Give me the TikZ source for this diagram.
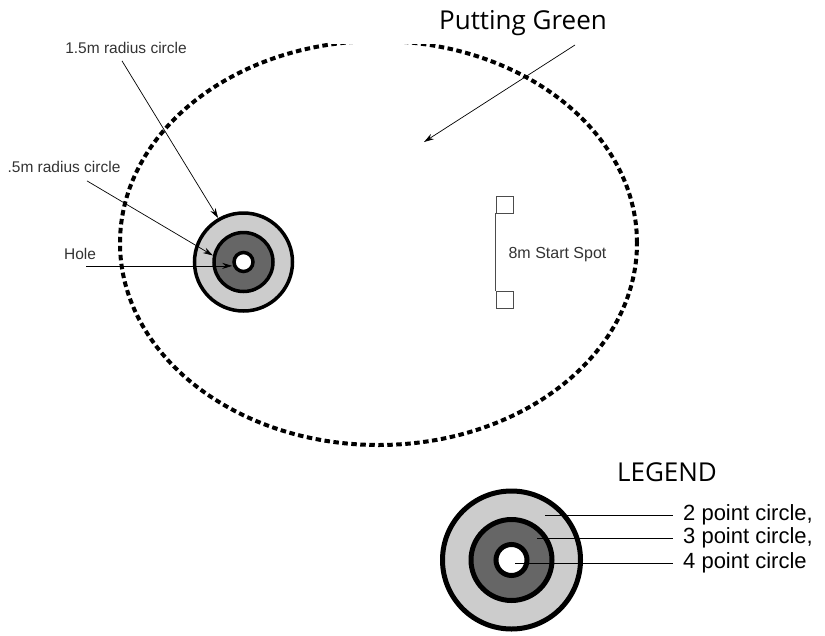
\documentclass[tikz,border=0pt]{standalone}
\usepackage{fontspec}
\setmainfont{Liberation Sans}
\newfontfamily\headfont{Open Sans}
\usetikzlibrary{arrows.meta}
\definecolor{ringlight}{gray}{0.8}
\definecolor{ringdark}{gray}{0.4}
\definecolor{spotgray}{gray}{0.3}

\begin{document}
\begin{tikzpicture}[x=1pt,y=-1pt,
    lbl/.style={font=\fontsize{15.5}{18}\selectfont,inner sep=0pt,text=black!80},
    pt/.style={font=\fontsize{22}{26}\selectfont,inner sep=0pt,anchor=west},
    head/.style={font=\headfont\fontsize{26}{30}\selectfont,inner sep=0pt},
    ring/.style={circle,draw,line width=3.5pt,inner sep=0pt},
    keyring/.style={circle,draw,line width=5pt,inner sep=0pt},
    arr/.style={-{Stealth[length=10pt,width=6pt]},line width=0.7pt},
    lead/.style={line width=0.8pt}]
    \useasboundingbox (0,0) rectangle (825,635);
    \draw[line width=4pt,dash pattern=on 5.5pt off 3.5pt] (378.5,243) ellipse [x radius=258.5pt, y radius=202pt];
    \fill[white] (330,0) rectangle (640,43.5);
    \node[head] (title) at (523,23) {Putting Green};
    \node[ring,fill=ringlight,minimum size=98pt] (c15) at (243.5,262) {};
    \node[ring,fill=ringdark,minimum size=59pt] (c05) at (243.5,262) {};
    \node[ring,fill=white,minimum size=19pt] (cup) at (243.5,262) {};
    \node[lbl] (l15) at (126,48) {1.5m radius circle};
    \node[lbl] (l05) at (64,167) {.5m radius circle};
    \node[lbl] (lhole) at (80,254) {Hole};
    \coordinate (hstart) at ([shift={(6,6)}]lhole.south);
    \coordinate (gtail) at (575,45);
    \coordinate (gtip) at (424,142);
    \draw[arr] ([shift={(-4,7)}]l15.south) -- (c15.120);
    \draw[arr] ([shift={(23,8)}]l05.south) -- (c05.168);
    \draw[arr] (hstart) -- (hstart -| cup.west);
    \draw[arr] (gtail) -- (gtip);
    \node[draw=spotgray,line width=0.8pt,minimum size=17pt,inner sep=0pt] (s1) at (504.5,204.5) {};
    \node[draw=spotgray,line width=0.8pt,minimum size=17pt,inner sep=0pt] (s2) at (504.5,299.5) {};
    \draw[spotgray,line width=0.8pt] (s1.south west) -- (s2.north west);
    \node[lbl,font=\fontsize{16}{19}\selectfont] (spot) at (557.5,255) {8m Start Spot};
    \node[head] (legend) at (667,472) {LEGEND};
    \node[keyring,fill=ringlight,minimum size=138pt] (k2) at (511.5,560) {};
    \node[keyring,fill=ringdark,minimum size=81pt] (k3) at (511.5,560) {};
    \node[keyring,fill=white,minimum size=31pt] (k4) at (511.5,560) {};
    \node[pt] (t2) at (683,515) {2 point circle,};
    \node[pt] (t3) at (683,538) {3 point circle,};
    \node[pt] (t4) at (683,563) {4 point circle};
    \draw[lead] ([shift={(33.5,-45)}]k2.center) -- ([xshift=-10pt]t2.west);
    \draw[lead] ([shift={(25.5,-22)}]k2.center) -- ([xshift=-10pt]t3.west);
    \draw[lead] ([shift={(3.5,3)}]k2.center) -- ([xshift=-10pt]t4.west);
\end{tikzpicture}
\end{document}
